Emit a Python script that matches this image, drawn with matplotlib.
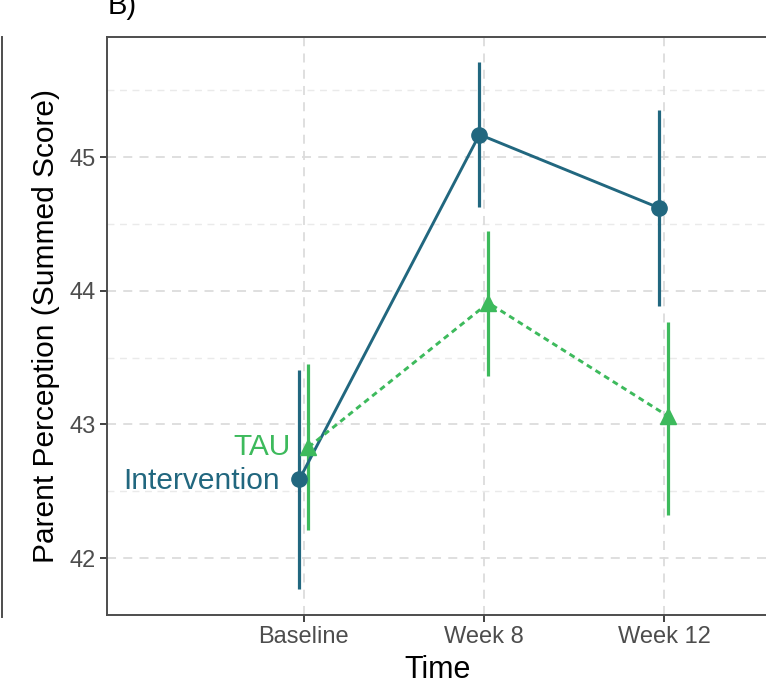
import matplotlib
matplotlib.use("Agg")
import matplotlib.pyplot as plt
from matplotlib.lines import Line2D
import numpy as np

plt.rcParams['font.family'] = ['Liberation Sans', 'DejaVu Sans']

# data
times = ['Baseline', 'Week 8', 'Week 12']
groups = ['Intervention', 'TAU']
interv_mean = [42.59, 45.17, 44.62]
interv_lo = [41.77, 44.63, 43.89]
interv_hi = [43.41, 45.71, 45.35]
tau_mean = [42.83, 43.91, 43.06]
tau_lo = [42.21, 43.36, 42.32]
tau_hi = [43.45, 44.45, 43.77]

blue = '#21677F'
green = '#3DBA5C'

fig = plt.figure(figsize=(7.66, 6.88), dpi=100)
W, H = 766, 688
ax = fig.add_axes([107 / W, (H - 615) / H, (768 - 107) / W, (615 - 37) / H])

x = np.arange(len(times))
dodge = 0.025

# grid, ggplot theme_bw style with dashed lines
for v in np.arange(41.5, 46.0, 0.5):
    major = float(v).is_integer()
    ax.axhline(v, color='#DCDCDC' if major else '#EAEAEA', lw=1.3 if major else 1.0,
               ls=(0, (5, 4)), zorder=0)
for xi in x:
    ax.axvline(xi, color='#DCDCDC', lw=1.3, ls=(0, (5, 4)), zorder=0)

# intervention
xi_ = x - dodge
ax.vlines(xi_, interv_lo, interv_hi, color=blue, lw=2.3, zorder=3)
ax.plot(xi_, interv_mean, color=blue, lw=2.1, marker='o', ms=11, zorder=4)

# TAU
xt_ = x + dodge
ax.vlines(xt_, tau_lo, tau_hi, color=green, lw=2.3, zorder=3)
ax.plot(xt_, tau_mean, color=green, lw=2.1, ls=(0, (2.0, 1.5)), marker='^', ms=12, zorder=4)

# group labels at baseline
ax.annotate(groups[0], (xi_[0], interv_mean[0]), xytext=(-14, -1), textcoords='offset points',
            ha='right', va='center', fontsize=21.5, color=blue)
ax.annotate(groups[1], (xt_[0], tau_mean[0]), xytext=(-13, 0), textcoords='offset points',
            ha='right', va='center', fontsize=21.5, color=green)

ax.set_xlim(-1.094, 2.578)
ax.set_ylim(41.574, 45.9)
ax.set_xticks(x)
ax.set_xticklabels(times)
ax.set_yticks([42, 43, 44, 45])
ax.tick_params(axis='both', colors='#333333', labelcolor='#4D4D4D', labelsize=17,
               length=5, width=1.3, pad=3)
for s in ax.spines.values():
    s.set_color('#4D4D4D')
    s.set_linewidth(1.4)

ax.set_xlabel('Time', fontsize=22, labelpad=5)
ax.set_ylabel('Parent Perception (Summed Score)', fontsize=21.5, labelpad=7)

fig.text(108 / W, 1 - 14 / H, 'B)', fontsize=21, ha='left', va='baseline')

# right border of the neighbouring panel A
fig.add_artist(Line2D([2 / W, 2 / W], [(H - 617) / H, (H - 37) / H], color='#4D4D4D', lw=1.4))

fig.savefig('out.png', dpi=100)
